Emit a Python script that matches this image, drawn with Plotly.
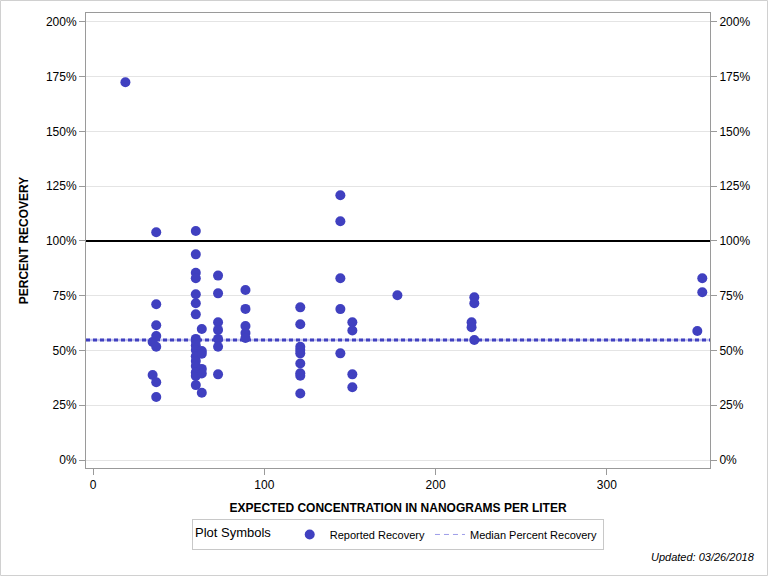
import plotly.graph_objects as go

# Data
conc = [18.9,
        34.8, 34.8,
        36.9, 36.9, 36.9, 36.9, 36.9, 36.9, 36.9,
        60, 60, 60, 60, 60, 60, 60, 60, 60, 60, 60, 60, 60, 60, 60, 60, 60,
        63.5, 63.5, 63.5, 63.5, 63.5, 63.5,
        73, 73, 73, 73, 73, 73, 73,
        89, 89, 89, 89, 89,
        121, 121, 121, 121, 121, 121, 121, 121, 121,
        144.4, 144.4, 144.4, 144.4, 144.4,
        151.4, 151.4, 151.4, 151.4,
        177.7,
        221, 221,
        222.6, 222.6, 222.6,
        355.7, 355.7,
        352.8]
recovery = [172.5,
            53.9, 38.8,
            104.0, 71.1, 61.5, 56.6, 51.7, 35.5, 28.8,
            104.6, 93.9, 85.5, 83.0, 75.7, 71.6, 66.5, 55.3, 54.4, 52.3, 50.2, 47.4, 45.2, 42.9, 40.0, 38.4, 34.2,
            59.8, 49.8, 48.5, 41.6, 39.5, 30.7,
            84.2, 76.1, 62.9, 59.4, 55.3, 51.7, 39.1,
            77.6, 69.0, 61.2, 58.0, 55.7,
            69.7, 62.0, 51.7, 50.2, 48.7, 44.1, 39.6, 38.5, 30.4,
            120.9, 109.0, 83.0, 68.9, 48.7,
            62.9, 59.1, 39.1, 33.2,
            75.2,
            62.9, 60.6,
            74.3, 71.6, 54.8,
            83.0, 76.6,
            58.9]
median_recovery = 54.8
reference_recovery = 100
x_range = [-4.1, 360.2]
y_range = [-3.65, 204.1]
x_ticks = [0, 100, 200, 300]
y_ticks = [0, 25, 50, 75, 100, 125, 150, 175, 200]
y_ticktext = [f"{v}%" for v in y_ticks]

BLUE = "#4040C0"
AXIS = "#9a9a9a"
FONT = "Liberation Sans, Arial, sans-serif"

fig = go.Figure()

# reference 100% line
fig.add_trace(go.Scatter(x=x_range, y=[reference_recovery] * 2, mode="lines",
                         line=dict(color="black", width=2), showlegend=False,
                         hoverinfo="skip"))
# median line (light underlay + dark dashes)
fig.add_trace(go.Scatter(x=x_range, y=[median_recovery] * 2, mode="lines",
                         line=dict(color="#C4C4EE", width=2.5), showlegend=False,
                         hoverinfo="skip"))
fig.add_trace(go.Scatter(x=x_range, y=[median_recovery] * 2, mode="lines",
                         line=dict(color=BLUE, width=3, dash="4px,3px"), showlegend=False,
                         hoverinfo="skip"))

fig.add_trace(go.Scatter(x=conc, y=recovery, mode="markers",
                         marker=dict(color=BLUE, size=10, line=dict(width=0)),
                         name="Reported Recovery"))
# legend entry for median
fig.add_trace(go.Scatter(x=[None], y=[None], mode="lines",
                         line=dict(color="#9C9CE8", width=1, dash="5px,4px"),
                         name="Median Percent Recovery"))
# dummy trace to activate right axis
fig.add_trace(go.Scatter(x=[None], y=[None], yaxis="y2", showlegend=False))

fig.update_layout(
    width=768, height=576,
    margin=dict(l=86, r=58, t=13, b=108),
    paper_bgcolor="white", plot_bgcolor="white",
    font=dict(family=FONT, size=11, color="black"),
    xaxis=dict(range=x_range, tickvals=x_ticks, ticks="outside", ticklen=6,
               tickcolor=AXIS, showline=True, linecolor=AXIS, linewidth=1,
               mirror=True, showgrid=False, zeroline=False,
               tickfont=dict(size=12),
               title=dict(text="<b>EXPECTED CONCENTRATION IN NANOGRAMS PER LITER</b>",
                          font=dict(size=12), standoff=12)),
    yaxis=dict(range=y_range, tickvals=y_ticks, ticktext=y_ticktext,
               ticks="outside", ticklen=6, tickcolor=AXIS,
               showline=True, linecolor=AXIS, linewidth=1, mirror=True,
               showgrid=True, gridcolor="#e4e4e4", zeroline=False,
               tickfont=dict(size=12),
               title=dict(text="<b>PERCENT RECOVERY</b>", font=dict(size=12), standoff=14)),
    yaxis2=dict(range=y_range, tickvals=y_ticks, ticktext=y_ticktext,
                overlaying="y", side="right", ticks="outside", ticklen=6,
                tickcolor=AXIS, showline=False, showgrid=False, zeroline=False,
                tickfont=dict(size=12)),
    legend=dict(orientation="h", x=0.5, xanchor="center", y=-0.112, yanchor="top",
                bordercolor="#c8c8c8", borderwidth=1, font=dict(size=11),
                title=dict(text="Plot Symbols   ", font=dict(size=13), side="left"),
                tracegroupgap=0),
    showlegend=True,
)

fig.add_annotation(text="<i>Updated: 03/26/2018</i>", xref="paper", yref="paper",
                   x=(757 - 86) / 624, y=(468 - 557) / 455, xanchor="right", yanchor="middle",
                   showarrow=False, font=dict(size=11))

# outer image border
fig.add_shape(type="rect", xref="paper", yref="paper",
              x0=(0.5 - 86) / 624, x1=(767.5 - 86) / 624,
              y0=(468 - 575.5) / 455, y1=(468 - 0.5) / 455,
              line=dict(color="#d0d0d0", width=1), layer="below")

fig.write_html("out.html")
